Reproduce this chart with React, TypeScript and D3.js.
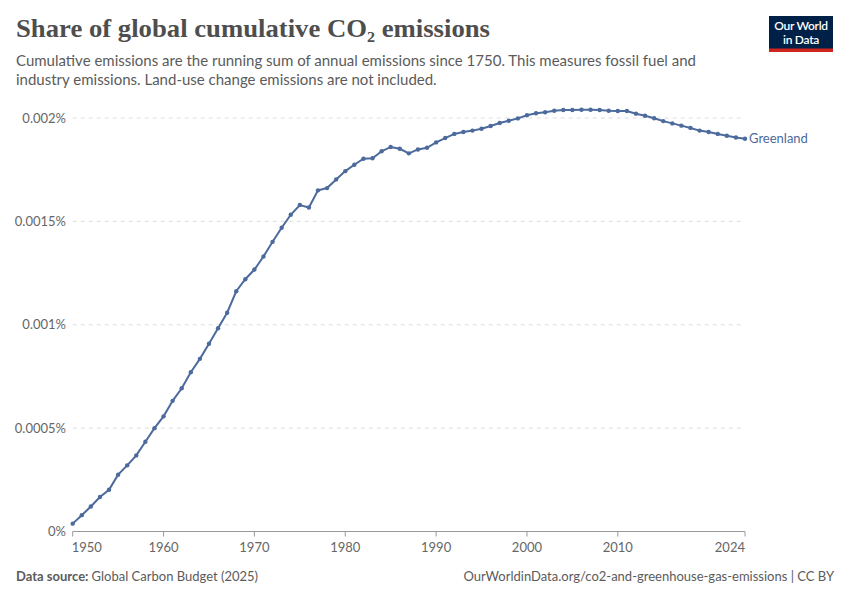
import React from "react";
import * as d3 from "d3";

// share of global cumulative CO2 emissions, Greenland (percent)
const years = d3.range(1950, 2025);
const shareGreenland = [
    0.000038, 0.000079, 0.000121, 0.000167, 0.000202, 0.000275, 0.00032, 0.000368, 0.000434, 0.0005,
    0.000557, 0.000632, 0.000693, 0.00077, 0.000835, 0.000908, 0.000983, 0.001058, 0.001162, 0.00122,
    0.001267, 0.00133, 0.001401, 0.001469, 0.001532, 0.001579, 0.001567, 0.00165, 0.001661, 0.001703,
    0.001743, 0.001774, 0.001803, 0.001805, 0.001839, 0.00186, 0.001851, 0.001829, 0.001848, 0.001856,
    0.001882, 0.001903, 0.001923, 0.001932, 0.001939, 0.001948, 0.001961, 0.001976, 0.001987, 0.001998,
    0.002013, 0.002023, 0.002028, 0.002035, 0.002039, 0.002039, 0.00204, 0.00204, 0.002039, 0.002035,
    0.002034, 0.002034, 0.002021, 0.002011, 0.001999, 0.001985, 0.001974, 0.001963, 0.001952, 0.001939,
    0.001932, 0.001923, 0.001914, 0.001906, 0.0019,
];
const yTicks = [0, 0.0005, 0.001, 0.0015, 0.002];
const yTickLabels = ["0%", "0.0005%", "0.001%", "0.0015%", "0.002%"];
const xTicks = [1950, 1960, 1970, 1980, 1990, 2000, 2010, 2024];
const entityName = "Greenland";

const W = 850;
const H = 600;
const FONT = "Lato, 'Noto Sans', sans-serif";
const LINE = "#4c6a9c";

export default function App() {
    const x = d3.scaleLinear().domain([1950, 2024]).range([72.7, 745]);
    const y = d3.scaleLinear().domain([0, 0.002]).range([531.5, 118]);

    const pts = years.map((yr, i) => ({ yr, v: shareGreenland[i] }));
    const line = d3
        .line<{ yr: number; v: number }>()
        .x((d) => x(d.yr))
        .y((d) => y(d.v));

    const last = pts[pts.length - 1];

    return (
        <div style={{ position: "absolute", left: 0, top: 0 }}>
            <svg width={W} height={H} style={{ display: "block", background: "#fff" }}>
                {/* header */}
                <text
                    x={16}
                    y={37}
                    fontFamily="'Liberation Serif', 'DejaVu Serif', serif"
                    fontSize={26}
                    fontWeight={700}
                    fill="#4e4e4e"
                    textLength={474}
                    lengthAdjust="spacingAndGlyphs"
                >
                    Share of global cumulative CO₂ emissions
                </text>
                <text fontFamily={FONT} fontSize={15} fill="#5b5b5b">
                    <tspan x={16} y={66}>
                        Cumulative emissions are the running sum of annual emissions since 1750. This measures fossil fuel and
                    </tspan>
                    <tspan x={16} y={85}>
                        industry emissions. Land-use change emissions are not included.
                    </tspan>
                </text>

                {/* logo */}
                <rect x={769} y={16} width={64} height={36} fill="#002147" />
                <rect x={769} y={48.5} width={64} height={3.5} fill="#ce261e" />
                <text textAnchor="middle" fontFamily={FONT} fontWeight={600} fontSize={12} fill="#fff" letterSpacing={-0.3}>
                    <tspan x={801} y={29.5}>Our World</tspan>
                    <tspan x={801} y={44}>in Data</tspan>
                </text>

                {/* grid + y labels */}
                {yTicks.map((t, i) => (
                    <g key={t}>
                        {t !== 0 && (
                            <line
                                x1={72.7}
                                x2={745}
                                y1={y(t)}
                                y2={y(t)}
                                stroke="#dddddd"
                                strokeDasharray="4,4"
                            />
                        )}
                        <text
                            x={66}
                            y={y(t) + 4.5}
                            textAnchor="end"
                            fontFamily={FONT}
                            fontSize={13}
                            fill="#666"
                        >
                            {yTickLabels[i]}
                        </text>
                    </g>
                ))}

                {/* x axis */}
                <line x1={72.7} x2={745} y1={531.5} y2={531.5} stroke="#999" />
                {xTicks.map((t, i) => {
                    const anchor = i === 0 ? "start" : i === xTicks.length - 1 ? "end" : "middle";
                    return (
                        <g key={t}>
                            <line x1={x(t)} x2={x(t)} y1={531.5} y2={536.5} stroke="#999" />
                            <text
                                x={x(t) - (i === 0 ? 1 : 0)}
                                y={552}
                                textAnchor={anchor}
                                fontFamily={FONT}
                                fontSize={13}
                                fill="#666"
                            >
                                {t}
                            </text>
                        </g>
                    );
                })}

                {/* series */}
                <path d={line(pts) ?? ""} fill="none" stroke={LINE} strokeWidth={2} />
                {pts.map((p) => (
                    <circle key={p.yr} cx={x(p.yr)} cy={y(p.v)} r={2.2} fill={LINE} />
                ))}
                <text x={x(last.yr) + 4} y={y(last.v) + 4.5} fontFamily={FONT} fontSize={13} fill={LINE}>
                    {entityName}
                </text>

                {/* footer */}
                <text x={16} y={581} fontFamily={FONT} fontSize={13} fill="#5b5b5b">
                    <tspan fontWeight={700}>Data source: </tspan>
                    <tspan>Global Carbon Budget (2025)</tspan>
                </text>
                <text x={834} y={581} textAnchor="end" fontFamily={FONT} fontSize={13} fill="#5b5b5b">
                    OurWorldinData.org/co2-and-greenhouse-gas-emissions | CC BY
                </text>
            </svg>
        </div>
    );
}
